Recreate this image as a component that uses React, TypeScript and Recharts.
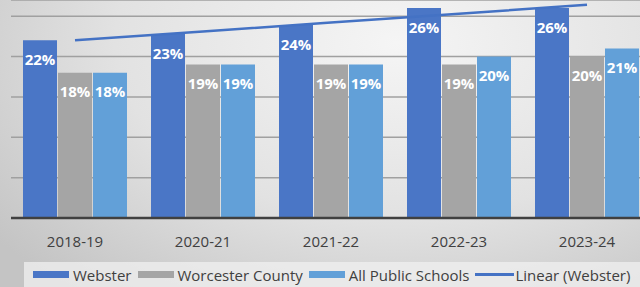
import {
  ComposedChart,
  Bar,
  Line,
  XAxis,
  YAxis,
  CartesianGrid,
  Legend,
  LabelList,
} from "recharts";

const years = ["2018-19", "2020-21", "2021-22", "2022-23", "2023-24"];
const webster = [22.0, 22.8, 23.9, 26.0, 26.0];
const worcester = [18.0, 19.0, 19.0, 19.0, 20.0];
const allPublic = [18.0, 19.0, 19.0, 20.0, 21.0];
// linear trend of Webster, as drawn in the picture
const websterTrend = [22.0, 23.1, 24.2, 25.3, 26.4];
const legendOrder = ["Webster", "Worcester County", "All Public Schools", "Linear (Webster)"];

const data = years.map((year, i) => ({
  year,
  webster: webster[i],
  worcester: worcester[i],
  allPublic: allPublic[i],
  trend: websterTrend[i],
}));

const FONT = "'Open Sans', sans-serif";
const pct = (v: number) => `${Math.round(v)}%`;

function LegendRow({ payload }: any) {
  const items = [...(payload || [])].sort(
    (a: any, b: any) => legendOrder.indexOf(a.value) - legendOrder.indexOf(b.value)
  );
  return (
    <div
      style={{
        display: "flex",
        alignItems: "center",
        height: 25,
        paddingLeft: 9,
        fontFamily: FONT,
        fontSize: 15,
        color: "#404040",
        whiteSpace: "nowrap",
      }}
    >
      {items.map((p: any) => (
        <div key={p.value} style={{ display: "flex", alignItems: "center", marginRight: 6 }}>
          {p.type === "line" ? (
            <span style={{ width: 39, height: 2.5, background: p.color, marginRight: 1 }} />
          ) : (
            <span style={{ width: 36, height: 7, background: p.color, marginRight: 4 }} />
          )}
          <span>{p.value}</span>
        </div>
      ))}
    </div>
  );
}

export default function App() {
  return (
    <div
      style={{
        position: "absolute",
        left: 0,
        top: 0,
        width: 640,
        height: 287,
        overflow: "hidden",
        background:
          "radial-gradient(ellipse 80% 110% at 62% 15%, #f5f5f5 0%, #e2e2e2 55%, #c4c4c4 100%)",
      }}
    >
      <ComposedChart
        width={651}
        height={287}
        data={data}
        margin={{ top: 0, right: 0, bottom: 0, left: 11 }}
        barCategoryGap={12}
        barGap={1}
      >
        <CartesianGrid vertical={false} stroke="#a0a0a0" strokeWidth={1.5} />
        <XAxis
          dataKey="year"
          height={44}
          tickSize={0}
          tickMargin={18}
          axisLine={{ stroke: "#404040", strokeWidth: 2.5 }}
          tick={{ fill: "#404040", fontSize: 15, fontFamily: FONT }}
        />
        <YAxis hide domain={[0, 27]} ticks={[0, 5, 10, 15, 20, 25]} />
        <Legend
          verticalAlign="bottom"
          height={25}
          content={<LegendRow />}
          wrapperStyle={{
            left: 24,
            bottom: 0,
            width: 616,
            background: "rgba(240,240,240,0.75)",
          }}
        />
        <Bar dataKey="webster" name="Webster" fill="#4a76c6" isAnimationActive={false}>
          <LabelList
            dataKey="webster"
            position="insideTop"
            offset={14}
            formatter={pct}
            fill="#ffffff"
            style={{ fontFamily: FONT, fontSize: 15, fontWeight: 700 }}
          />
        </Bar>
        <Bar dataKey="worcester" name="Worcester County" fill="#a5a5a5" isAnimationActive={false}>
          <LabelList
            dataKey="worcester"
            position="insideTop"
            offset={14}
            formatter={pct}
            fill="#ffffff"
            style={{ fontFamily: FONT, fontSize: 15, fontWeight: 700 }}
          />
        </Bar>
        <Bar dataKey="allPublic" name="All Public Schools" fill="#62a0d8" isAnimationActive={false}>
          <LabelList
            dataKey="allPublic"
            position="insideTop"
            offset={14}
            formatter={pct}
            fill="#ffffff"
            style={{ fontFamily: FONT, fontSize: 15, fontWeight: 700 }}
          />
        </Bar>
        <Line
          type="linear"
          dataKey="trend"
          name="Linear (Webster)"
          stroke="#4472c4"
          strokeWidth={2.5}
          dot={false}
          legendType="line"
          isAnimationActive={false}
        />
      </ComposedChart>
    </div>
  );
}
